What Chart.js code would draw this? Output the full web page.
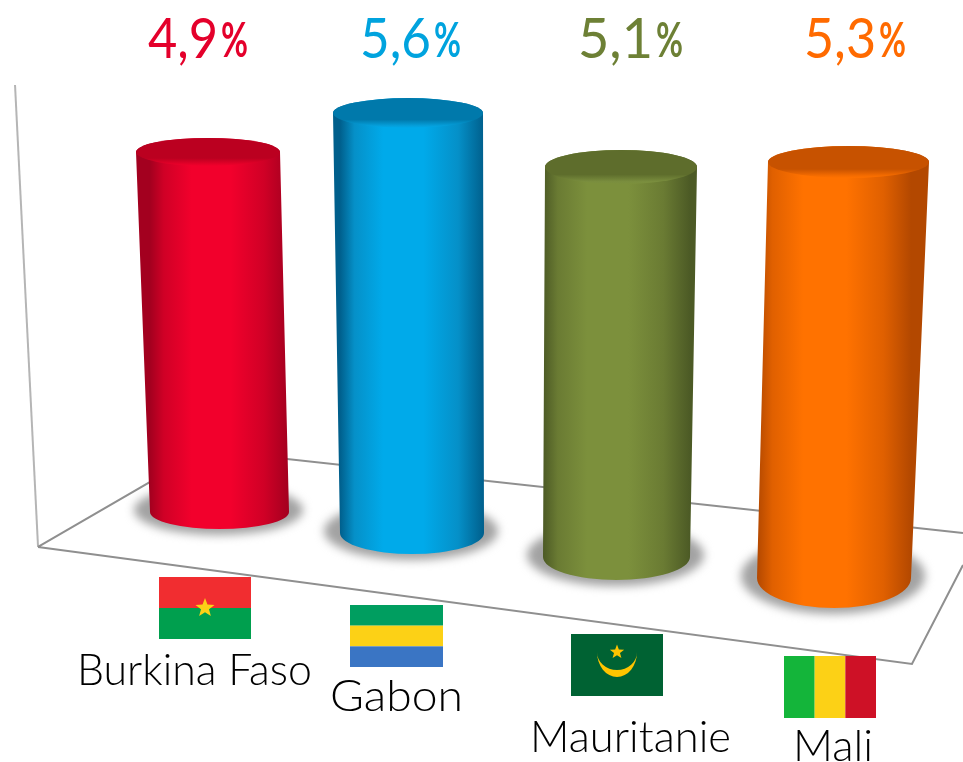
<!DOCTYPE html>
<html><head><meta charset="utf-8">
<style>html,body{margin:0;padding:0;background:#fff}canvas{display:block}</style>
<script src="https://cdn.jsdelivr.net/npm/chart.js@4"></script>
</head><body><canvas id="c" width="963" height="762"></canvas>
<script>
// --- data ---
const categories = ["Burkina Faso", "Gabon", "Mauritanie", "Mali"];
const values = [4.9, 5.6, 5.1, 5.3];
// --- styles ---
const bright = ["#f2002c", "#00aaea", "#7c903c", "#ff7200"];
const mid    = ["#d00026", "#0590c8", "#6a7b33", "#e06000"];
const dark   = ["#a3001f", "#005f8c", "#4c5a25", "#b34800"];
const capFill = ["#bb0020", "#0079ab", "#5e6d2c", "#c75200"];
const capRim  = ["#e60029", "#05a0dc", "#7a8e3e", "#f56c00"];
const textColors = ["#e4002b", "#00a3de", "#6d8035", "#ff6a00"];
// --- perspective layout (pixels) ---
const floorPx = [512, 533, 557, 578];
const topPx   = [152, 113, 167, 162];
const topCx   = [208, 408, 621, 848.5];
const baseCx  = [219.5, 412, 616.5, 834];
const topW    = [144, 150, 152, 161];
const baseW   = [139, 144, 147, 154];
const topRy   = [14, 15, 17, 16];
const baseRy  = [17, 21, 23, 30];
const valueX  = [148, 360, 578, 804];
const pctX    = [221, 434, 656, 879];
const labelX  = [77, 330, 530, 793];
const labelY  = [685, 711, 752, 761];
const labelW  = [235, 133, 201, 80];
const flagBox = [[159,577],[350,605],[571,634],[784,656]];
const flagW = [92, 93, 92, 92];
const flagH = 62;
const W = 963, H = 762;

function star(ctx, cx, cy, r, col){
  ctx.beginPath();
  for(let k=0;k<10;k++){
    const a=-Math.PI/2+k*Math.PI/5, q=k%2?r*0.42:r;
    ctx.lineTo(cx+q*Math.cos(a), cy+q*Math.sin(a));
  }
  ctx.closePath(); ctx.fillStyle=col; ctx.fill();
}
function stripes(ctx,x,y,w,h,cols,vertical){
  cols.forEach((c,i)=>{
    ctx.fillStyle=c;
    if(vertical) ctx.fillRect(x+w*i/cols.length,y,w/cols.length,h);
    else ctx.fillRect(x,y+h*i/cols.length,w,h/cols.length);
  });
}
const flagDrawers = [
  (ctx,x,y,w,h)=>{stripes(ctx,x,y,w,h,["#f12d30","#009f4e"]);star(ctx,x+w/2,y+h/2,10,"#fcd116");},
  (ctx,x,y,w,h)=>{stripes(ctx,x,y,w,h,["#009e60","#fcd116","#3a75c4"]);},
  (ctx,x,y,w,h)=>{
    ctx.fillStyle="#006233";ctx.fillRect(x,y,w,h);
    const cx=x+w/2, cy=y+18;
    star(ctx,cx,cy,7.5,"#ffc400");
    ctx.beginPath();
    ctx.ellipse(cx,cy,20,25,0,0,Math.PI);
    ctx.ellipse(cx,cy,20,18,0,Math.PI,0,true);
    ctx.closePath();ctx.fillStyle="#ffc400";ctx.fill();
  },
  (ctx,x,y,w,h)=>{stripes(ctx,x,y,w,h,["#14b53a","#fcd116","#ce1126"],true);}
];
function fitText(ctx,txt,x,y,targetW){
  const w=ctx.measureText(txt).width;
  ctx.save(); ctx.translate(x,y); ctx.scale(targetW/w,1); ctx.fillText(txt,0,0); ctx.restore();
}

const perspectivePlugin = {
  id:'perspective',
  beforeDatasetsDraw(chart){
    const ctx=chart.ctx; ctx.save();
    ctx.lineWidth=2; ctx.lineJoin="miter";
    ctx.strokeStyle="#b5b5b5";
    ctx.beginPath();
    ctx.moveTo(W*0.0156,H*0.1115); ctx.lineTo(W*0.0395,H*0.7178);
    ctx.stroke();
    ctx.strokeStyle="#8f8f8f";
    ctx.beginPath();
    ctx.moveTo(W*0.0395,H*0.7178); ctx.lineTo(W*0.947,H*0.8714); ctx.lineTo(W,H*0.7415);
    ctx.moveTo(W*0.0395,H*0.7178); ctx.lineTo(W*0.2129,H*0.5906); ctx.lineTo(W,H*0.6995);
    ctx.stroke(); ctx.restore();
  },
  afterDatasetsDraw(chart){
    const ctx=chart.ctx;
    chart.data.datasets.forEach((ds,i)=>{
      const el=chart.getDatasetMeta(i).data[i];
      const catX=chart.scales.x.getPixelForValue(i);
      const cT=el.x+topCx[i]-catX, cB=el.x+baseCx[i]-catX;
      const yT=el.y, yB=el.base;
      const meanW=(topW[i]+baseW[i])/2;
      const rT=el.width/2*topW[i]/meanW, rB=el.width/2*baseW[i]/meanW;
      // floor shadow
      ctx.save();
      ctx.filter="blur(5px)"; ctx.fillStyle="#a2a2a2";
      ctx.beginPath(); ctx.ellipse(cB-1,yB-2,rB+15,baseRy[i]+8,0,0,Math.PI*2); ctx.fill();
      ctx.restore();
      // body
      const g=ctx.createLinearGradient(cB-rB,0,cB+rB,0);
      g.addColorStop(0,dark[i]); g.addColorStop(0.1,mid[i]); g.addColorStop(0.3,bright[i]); g.addColorStop(0.58,bright[i]);
      g.addColorStop(0.82,mid[i]); g.addColorStop(1,dark[i]);
      ctx.beginPath();
      ctx.moveTo(cT-rT,yT); ctx.lineTo(cB-rB,yB);
      ctx.ellipse(cB,yB,rB,baseRy[i],0,Math.PI,0,true);
      ctx.lineTo(cT+rT,yT);
      ctx.ellipse(cT,yT,rT,topRy[i],0,0,Math.PI,true);
      ctx.closePath(); ctx.fillStyle=g; ctx.fill();
      // top cap: dark face, soft lit lip on the near edge
      const cap=ctx.createLinearGradient(0,yT-topRy[i],0,yT+topRy[i]);
      cap.addColorStop(0,capFill[i]); cap.addColorStop(0.72,capFill[i]); cap.addColorStop(0.93,capRim[i]); cap.addColorStop(1,bright[i]);
      ctx.beginPath(); ctx.ellipse(cT,yT,rT,topRy[i],0,0,Math.PI*2);
      ctx.fillStyle=cap; ctx.fill();
      // value label
      ctx.save();
      ctx.fillStyle=textColors[i]; ctx.textBaseline="alphabetic"; ctx.textAlign="left";
      ctx.font="400 57px Lato";
      fitText(ctx,String(values[i]).replace(".",","),valueX[i],58,pctX[i]-3-valueX[i]);
      ctx.font="700 47px Lato";
      fitText(ctx,"%",pctX[i],57,27);
      ctx.restore();
      // flag
      flagDrawers[i](ctx,flagBox[i][0],flagBox[i][1],flagW[i],flagH);
      // category label
      ctx.save();
      ctx.fillStyle="#000"; ctx.font="300 44px Lato"; ctx.textAlign="left";
      fitText(ctx,categories[i],labelX[i],labelY[i],labelW[i]);
      ctx.restore();
    });
  }
};

const scales={x:{type:'category',display:false,offset:true,grid:{display:false}}};
categories.forEach((_,i)=>{
  const unit=(floorPx[i]-topPx[i])/values[i];
  scales['y'+i]={type:'linear',display:false,min:-(H-floorPx[i])/unit,max:floorPx[i]/unit,grid:{display:false}};
});
const datasets=categories.map((name,i)=>({
  label:name,
  data:values.map((v,j)=>j===i?v:null),
  yAxisID:'y'+i,
  grouped:false,
  barThickness:(topW[i]+baseW[i])/2,
  backgroundColor:'rgba(0,0,0,0)',
  borderWidth:0
}));
new Chart(document.getElementById('c'),{
  type:'bar',
  data:{labels:categories,datasets},
  plugins:[perspectivePlugin],
  options:{
    responsive:false,animation:false,
    layout:{padding:{left:109.5,right:17.5,top:0,bottom:0}},
    plugins:{legend:{display:false},tooltip:{enabled:false}},
    scales
  }
});
</script></body></html>
